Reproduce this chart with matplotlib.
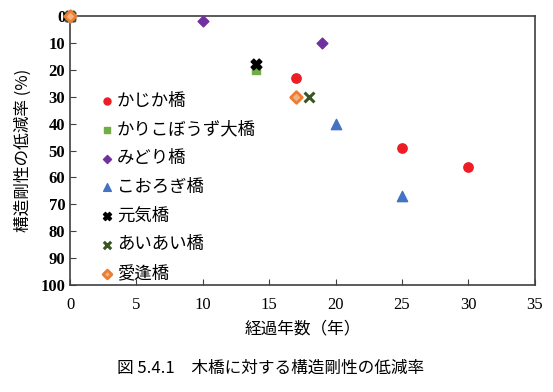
import matplotlib.pyplot as plt

plt.rcParams['font.family'] = ['Noto Sans CJK JP', 'DejaVu Sans']

# data: years elapsed, stiffness reduction (%)
kajika_x = [0, 17, 25, 30]
kajika_y = [0, 23, 49, 56]
karikobouzu_x = [0, 14]
karikobouzu_y = [0, 20]
midori_x = [0, 10, 19]
midori_y = [0, 2, 10]
korogi_x = [0, 20, 25]
korogi_y = [0, 40, 67]
genki_x = [0, 14]
genki_y = [0, 18]
aiai_x = [0, 18]
aiai_y = [0, 30]
aiai2_x = [0, 17]
aiai2_y = [0, 30]

xticks = [0, 5, 10, 15, 20, 25, 30, 35]
xtick_labels = ['0', '5', '10', '15', '20', '25', '30', '35']
yticks = [0, 10, 20, 30, 40, 50, 60, 70, 80, 90, 100]
ytick_labels = ['0', '10', '20', '30', '40', '50', '60', '70', '80', '90', '100']

fig = plt.figure(figsize=(5.53, 3.92), dpi=100)
ax = fig.add_axes([0.1266, 0.273, 0.8404, 0.686])

ax.scatter(kajika_x, kajika_y, marker='o', s=45, color='#ee1c25', label='かじか橋', clip_on=False, zorder=3)
ax.scatter(karikobouzu_x, karikobouzu_y, marker='s', s=40, color='#70ad47', label='かりこぼうず大橋', clip_on=False, zorder=3)
ax.scatter(midori_x, midori_y, marker='D', s=30, color='#7030a0', label='みどり橋', clip_on=False, zorder=3)
ax.scatter(korogi_x, korogi_y, marker='^', s=55, color='#4472c4', label='こおろぎ橋', clip_on=False, zorder=3)
ax.scatter(genki_x, genki_y, marker='X', s=60, color='black', label='元気橋', clip_on=False, zorder=4)
ax.scatter(aiai_x, aiai_y, marker='x', s=50, color='#375623', linewidths=2.2, label='あいあい橋', clip_on=False, zorder=4)
ax.scatter(aiai2_x, aiai2_y, marker='D', s=35, facecolor='#f4b183', edgecolor='#ed7d31', linewidths=2, label='愛逢橋', clip_on=False, zorder=5)

ax.set_xlim(0, 35)
ax.set_ylim(100, 0)
ax.set_xticks(xticks, xtick_labels, family='Liberation Serif', fontsize=12)
ax.set_yticks(yticks, ytick_labels, family='Liberation Serif', fontsize=12, fontweight='bold')
ax.tick_params(direction='in', length=4, color='#404040')
ax.tick_params(axis='x', pad=9)
for s in ax.spines.values():
    s.set_color('#404040')
    s.set_linewidth(1.2)

ax.set_xlabel('経過年数（年）', fontsize=12, labelpad=5)
ax.set_ylabel('構造剛性の低減率 (%)', fontsize=12, labelpad=6)

ax.legend(loc='upper left', bbox_to_anchor=(0.045, 0.745), frameon=False, fontsize=12.5,
          handletextpad=0.0, labelspacing=0.62, borderaxespad=0, handlelength=1.1,
          markerscale=0.75)

fig.text(0.49, 0.05, '図 5.4.1　木橋に対する構造剛性の低減率', ha='center', fontsize=12)

plt.savefig('out.png', dpi=100)
